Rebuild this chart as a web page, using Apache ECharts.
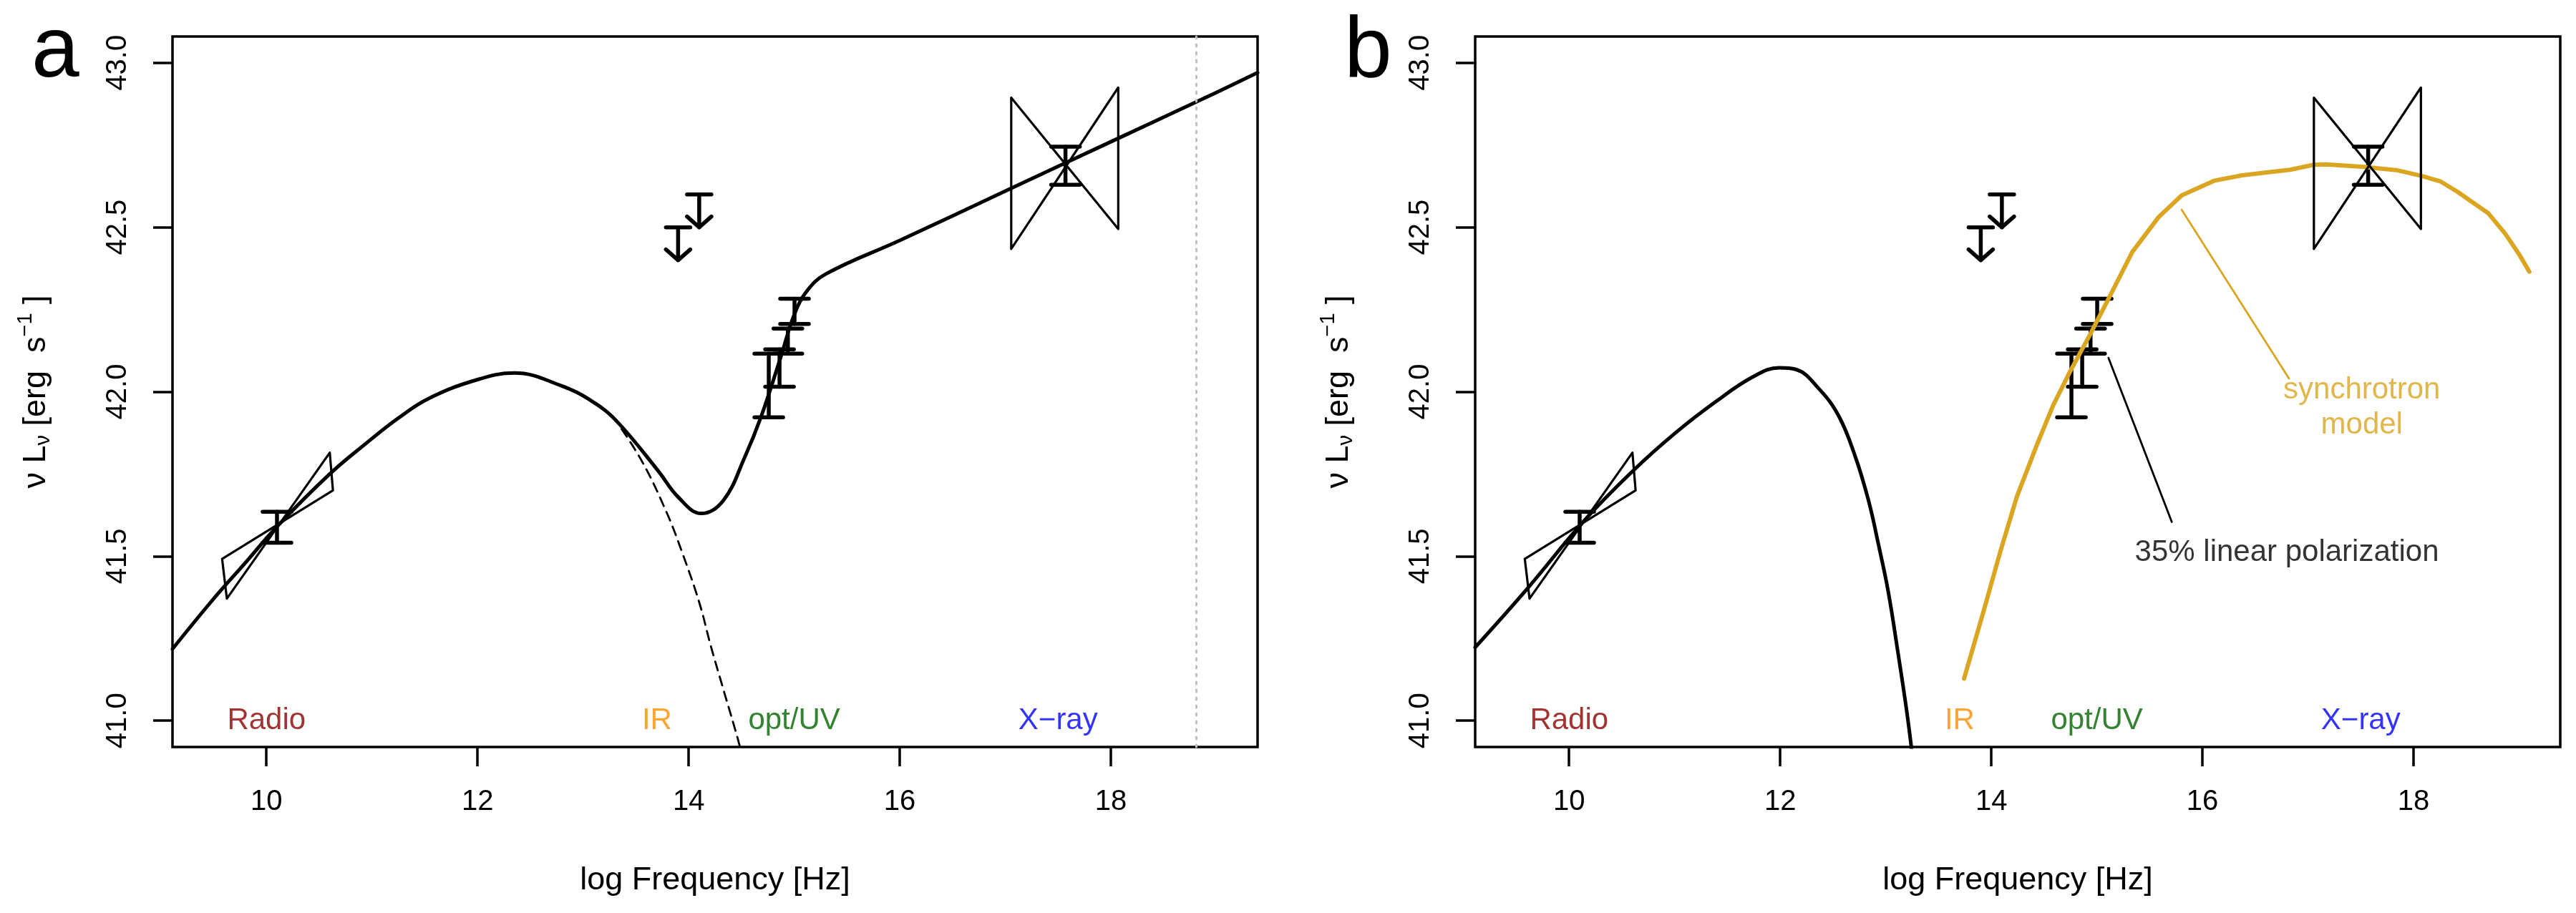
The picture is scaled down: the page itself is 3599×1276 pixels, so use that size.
<!DOCTYPE html>
<html>
<head>
<meta charset="utf-8">
<title>SED panels a / b</title>
<script src="https://cdn.jsdelivr.net/npm/echarts@6/dist/echarts.min.js"></script>
<style>
html, body { margin: 0; padding: 0; background: #fff; overflow: hidden; }
#chart { width: 3599px; height: 1276px; }
</style>
</head>
<body>
<div id="chart"></div>
<script>
// values: x = log frequency [Hz], y = log nu L_nu [erg/s]
var xTicks = [10, 12, 14, 16, 18];
var yTicks = [41.0, 41.5, 42.0, 42.5, 43.0];
var xMin = 9.11, xMax = 19.39;
var yMin = 40.92, yMax = 43.08;

// panel a: full model and the dashed low-energy bump
var aModel = [[9.11, 41.218], [9.49, 41.367], [9.8, 41.48], [10.1, 41.59], [10.6, 41.75],
  [10.94, 41.842], [11.25, 41.92], [11.54, 41.98], [12.0, 42.037], [12.35, 42.057],
  [12.78, 42.02], [13.09, 41.97], [13.32, 41.91], [13.71, 41.76], [13.9, 41.68],
  [14.12, 41.63], [14.33, 41.67], [14.53, 41.80], [14.685, 41.923], [14.87, 42.103],
  [15.0, 42.234], [15.12, 42.306], [15.3, 42.358], [16.0, 42.46], [17.0, 42.61],
  [18.0, 42.76], [19.0, 42.91], [19.39, 42.97]];
var aDashed = [[13.28, 41.926], [13.55, 41.793], [13.79, 41.634], [13.94, 41.51],
  [14.10, 41.36], [14.21, 41.227], [14.33, 41.094], [14.47, 40.94], [14.5, 40.90]];
var aCutoff = 18.81;

// panel b: low-energy bump and the synchrotron model
var bBump = [[9.11, 41.223], [9.6, 41.40], [10.14, 41.607], [10.6, 41.758], [11.0, 41.873],
  [11.39, 41.97], [11.74, 42.045], [11.99, 42.073], [12.148, 42.068], [12.367, 42.009],
  [12.555, 41.926], [12.711, 41.803], [12.836, 41.67], [12.93, 41.537], [13.023, 41.393],
  [13.117, 41.204], [13.195, 41.037], [13.25, 40.90]];
var bSync = [[13.742, 41.128], [13.93, 41.337], [14.086, 41.515], [14.242, 41.681],
  [14.43, 41.837], [14.586, 41.959], [14.742, 42.059], [14.929, 42.17], [15.117, 42.287],
  [15.336, 42.425], [15.585, 42.531], [15.804, 42.597], [16.117, 42.642], [16.376, 42.658],
  [16.83, 42.675], [17.056, 42.69], [17.17, 42.691], [17.51, 42.684], [17.85, 42.673],
  [18.077, 42.656], [18.257, 42.639], [18.416, 42.608], [18.71, 42.542], [18.87, 42.48],
  [19.006, 42.415], [19.097, 42.365]];
var syncPointer = [[15.804, 42.553], [16.82, 42.04]];
var polPointer = [[15.11, 42.103], [15.71, 41.604]];

// measurements: [x, low, high]
var radioPoint = [[10.10, 41.541, 41.635]];
var optPoints = [[15.003, 42.206, 42.283], [14.94, 42.116, 42.192],
  [14.861, 42.015, 42.129], [14.759, 41.922, 42.116]];
var xrayPoint = [[17.57, 42.629, 42.745]];
// upper limits: [x, bar level, arrow tip]
var upperLimits = [[13.9, 42.50, 42.40], [14.1, 42.60, 42.50]];
// spectral slope bowties (closed outlines)
var radioBowtie = [[9.58, 41.492], [10.63, 41.70], [10.60, 41.815], [9.625, 41.371], [9.58, 41.492]];
var xrayBowtie = [[17.056, 42.894], [18.07, 42.495], [18.07, 42.925], [17.056, 42.434], [17.056, 42.894]];

var bandNames = ['Radio', 'IR', 'opt/UV', 'X\u2212ray'];
var bandX = [10.0, 13.7, 15.0, 17.5];
var bandColors = ['#8B0000', '#FF8C00', '#006400', '#0000FF'];

var FONT = 'Liberation Sans, Arial, sans-serif';

function errorBar(params, api) {
	var x = api.value(0);
	var p1 = api.coord([x, api.value(1)]);
	var p2 = api.coord([x, api.value(2)]);
	var w = 20;
	var st = { stroke: '#000', lineWidth: 5.5, lineCap: 'round' };
	return { type: 'group', children: [
		{ type: 'line', shape: { x1: p1[0], y1: p1[1], x2: p2[0], y2: p2[1] }, style: st },
		{ type: 'line', shape: { x1: p1[0] - w, y1: p1[1], x2: p1[0] + w, y2: p1[1] }, style: st },
		{ type: 'line', shape: { x1: p2[0] - w, y1: p2[1], x2: p2[0] + w, y2: p2[1] }, style: st }
	] };
}

function upperLimit(params, api) {
	var x = api.value(0);
	var top = api.coord([x, api.value(1)]);
	var tip = api.coord([x, api.value(2)]);
	var w = 17, h = 15;
	var st = { stroke: '#000', lineWidth: 5.5, lineCap: 'round', lineJoin: 'round', fill: null };
	return { type: 'group', children: [
		{ type: 'line', shape: { x1: top[0] - w, y1: top[1], x2: top[0] + w, y2: top[1] }, style: st },
		{ type: 'line', shape: { x1: top[0], y1: top[1], x2: tip[0], y2: tip[1] }, style: st },
		{ type: 'polyline', shape: { points: [[tip[0] - w, tip[1] - h], [tip[0], tip[1]], [tip[0] + w, tip[1] - h]] }, style: st }
	] };
}

// smooth = 0 gives straight segments (bowties, pointers, the jagged model)
function curve(data, i, color, width, smooth, dash) {
	return {
		type: 'line', xAxisIndex: i, yAxisIndex: i, data: data, symbol: 'none',
		smooth: smooth || false, silent: true,
		lineStyle: { color: color, width: width, type: dash || 'solid', cap: 'round', join: 'round' }
	};
}

function customSeries(data, i, fn) {
	return { type: 'custom', xAxisIndex: i, yAxisIndex: i, data: data, renderItem: fn,
		encode: { x: 0, y: [1, 2] }, silent: true };
}

function textSeries(items, i) {
	return {
		type: 'scatter', xAxisIndex: i, yAxisIndex: i, symbolSize: 1, silent: true,
		itemStyle: { color: 'rgba(0,0,0,0)' },
		label: { show: true, position: 'inside', formatter: function (p) { return p.data.value[2]; },
			fontFamily: FONT, fontSize: 42, lineHeight: 49 },
		data: items
	};
}

function bandItems() {
	return bandNames.map(function (n, k) {
		return { value: [bandX[k], 41.0, n], label: { color: bandColors[k] } };
	});
}

function panelCommon(i) {
	return [
		curve(radioBowtie, i, '#000', 3.2),
		curve(xrayBowtie, i, '#000', 3.2),
		customSeries(radioPoint, i, errorBar),
		customSeries(optPoints, i, errorBar),
		customSeries(xrayPoint, i, errorBar),
		customSeries(upperLimits, i, upperLimit),
		textSeries(bandItems(), i)
	];
}

function makeX(i) {
	return {
		gridIndex: i, type: 'value', min: xMin, max: xMax,
		axisLine: { show: false }, splitLine: { show: false },
		axisTick: { show: true, length: 27, customValues: xTicks, lineStyle: { color: '#000', width: 3.5 } },
		axisLabel: { customValues: xTicks, margin: 57, fontSize: 40, color: '#000', fontFamily: FONT },
		name: 'log Frequency [Hz]', nameLocation: 'middle', nameGap: 164,
		nameTextStyle: { fontSize: 45, color: '#000', fontFamily: FONT }
	};
}

function makeY(i) {
	return {
		gridIndex: i, type: 'value', min: yMin, max: yMax,
		axisLine: { show: false }, splitLine: { show: false },
		axisTick: { show: true, length: 27, customValues: yTicks, lineStyle: { color: '#000', width: 3.5 } },
		axisLabel: { customValues: yTicks, rotate: 90, margin: 56, fontSize: 40, color: '#000', fontFamily: FONT,
			formatter: function (v) { return v.toFixed(1); } },
		name: '{n|\u03bd L}{sub|\u03bd}{n| [erg  s}{sup|\u22121}{n| ]}',
		nameLocation: 'middle', nameGap: 160, nameRotate: 90,
		nameTextStyle: {
			color: '#000', fontFamily: FONT,
			rich: {
				n: { fontSize: 45, lineHeight: 60, fontFamily: FONT, color: '#000' },
				sub: { fontSize: 29, lineHeight: 60, verticalAlign: 'bottom', padding: [0, 0, 6, 0], fontFamily: FONT, color: '#000' },
				sup: { fontSize: 29, lineHeight: 60, verticalAlign: 'top', fontFamily: FONT, color: '#000' }
			}
		}
	};
}

var series = [
	curve(aModel, 0, '#000', 5, 0.4),
	curve(aDashed, 0, '#000', 2.8, 0.4, [13, 9]),
	curve([[aCutoff, yMin], [aCutoff, yMax]], 0, '#BEBEBE', 3, 0, [3, 8])
].concat(panelCommon(0)).concat([
	curve(bBump, 1, '#000', 5, 0.4),
	curve(bSync, 1, '#DAA520', 6),
	curve(syncPointer, 1, '#DAA520', 2.8),
	curve(polPointer, 1, '#000', 2.8),
	textSeries([{ value: [17.51, 41.952, 'synchrotron\nmodel'], label: { color: '#DAA520' } },
		{ value: [16.80, 41.51, '35% linear polarization'], label: { color: '#000' } }], 1)
]).concat(panelCommon(1));

var chart = echarts.init(document.getElementById('chart'), null, { renderer: 'canvas' });
chart.setOption({
	animation: false,
	backgroundColor: '#fff',
	grid: [
		{ left: 241, top: 51, width: 1516, height: 993, show: true, borderColor: '#000', borderWidth: 3.5, backgroundColor: 'transparent' },
		{ left: 2061, top: 51, width: 1516, height: 993, show: true, borderColor: '#000', borderWidth: 3.5, backgroundColor: 'transparent' }
	],
	xAxis: [makeX(0), makeX(1)],
	yAxis: [makeY(0), makeY(1)],
	graphic: [
		{ type: 'text', left: 44, top: 14, style: { text: 'a', font: '120px ' + FONT, fill: '#000' } },
		{ type: 'text', left: 1878, top: 14, style: { text: 'b', font: '120px ' + FONT, fill: '#000' } }
	],
	series: series
});
</script>
</body>
</html>
